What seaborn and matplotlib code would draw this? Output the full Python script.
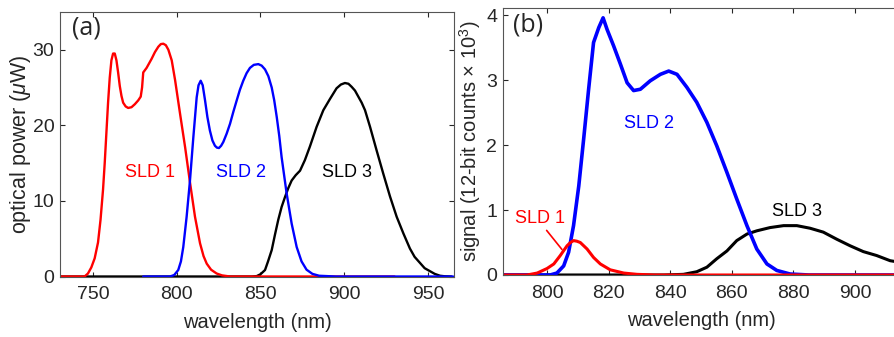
import numpy as np
import pandas as pd
import matplotlib
matplotlib.use("Agg")
import matplotlib.pyplot as plt
import seaborn as sns

# ---------------- Panel (a): optical power (uW) ----------------
a_red_x = [730, 745, 747, 749, 751, 753, 754.5, 756, 757, 758, 759, 760, 761, 762, 763, 764,
           765, 766, 767, 768, 769.5, 771, 773, 775, 777, 778.5, 779.3, 780, 781, 782, 783.5,
           785, 787, 789, 790.5, 792, 793.5, 795, 797, 799, 802, 805, 808, 810.9, 813.9,
           816, 817.9, 820.5, 823.8, 827, 831.8, 840, 930]
a_red_y = [0, 0, 0.4, 1.2, 2.4, 4.5, 7.5, 11.5, 15, 19, 23, 26.3, 28.6, 29.5, 29.5, 28.6,
           27, 25.2, 23.9, 23, 22.5, 22.3, 22.4, 22.8, 23.3, 23.8, 25, 27, 27.3, 27.6, 28.2,
           28.8, 29.7, 30.4, 30.75, 30.8, 30.6, 30.0, 28.6, 26.0, 21.5, 17.1, 12.3, 7.9, 4.4,
           2.7, 1.7, 0.9, 0.4, 0.15, 0, 0, 0]

a_blue_x = [780, 796, 798.5, 800.9, 802.5, 803.9, 805.9, 807.9, 809.9, 811.9, 813, 814.3, 815.5,
            816.9, 818.3, 819.8, 821.3, 822.8, 824, 825.2, 826.5, 827.8, 829.8, 831.8, 833.8,
            835.8, 837.7, 839.7, 841.7, 843.7, 846, 848.7, 850.7, 852.7, 854.7, 856.7, 858.2,
            859.7, 861.2, 862.6, 865.6, 868.6, 871.6, 874.5, 877.5, 881, 885, 895, 965]
a_blue_y = [0, 0, 0.2, 0.86, 2, 3.9, 7.9, 12.7, 18.4, 23.7, 25.3, 25.9, 25.3,
            23.3, 21.1, 19.3, 18.0, 17.3, 17.05, 17.0, 17.3, 17.8, 18.9, 20.2, 21.8,
            23.3, 24.7, 25.9, 26.9, 27.6, 28.0, 28.1, 27.9, 27.4, 26.5, 25.0, 23.3,
            21.1, 18.6, 15.8, 11.0, 7.0, 3.9, 2.0, 0.9, 0.35, 0.1, 0, 0]

a_black_x = [730, 845, 847.7, 850, 852.7, 854.5, 856.7, 858.6, 860.6, 862.6, 864.6, 866.6, 868.6,
             871, 873.6, 876.5, 879.5, 883.5, 887.5, 891.5, 895.4, 898, 900.4, 902.5, 904.4,
             906.4, 908.4, 910.4, 912.4, 915.4, 919.3, 923.3, 927.3, 931.3, 935.3, 939.2, 942,
             945.2, 948, 951.2, 954, 957.2, 960, 964]
a_black_y = [0, 0, 0.05, 0.3, 0.86, 2, 3.5, 5.5, 7.5, 9.2, 10.5, 11.7, 12.7,
             13.4, 14.0, 15.4, 17.2, 19.8, 22.0, 23.5, 24.9, 25.4, 25.6, 25.5, 25.1,
             24.6, 23.8, 23.0, 22.0, 19.8, 16.7, 13.6, 10.6, 7.9, 5.7, 3.7, 2.6,
             1.8, 1.1, 0.7, 0.35, 0.1, 0.03, 0]

# ---------------- Panel (b): signal (12-bit counts x 10^3) ----------------
b_red_x = [786, 793.5, 796.8, 800, 802.2, 804.3, 806.5, 807.6, 808.6, 809.7, 810.8, 813, 815.1,
           817.3, 820.5, 824.9, 829.2, 835, 914]
b_red_y = [0, 0, 0.03, 0.1, 0.17, 0.3, 0.45, 0.5, 0.53, 0.52, 0.5, 0.4, 0.27,
           0.17, 0.08, 0.03, 0.01, 0, 0]

b_blue_x = [786, 801, 803.2, 805.4, 807, 808.6, 810.3, 811.9, 813.5, 815.1, 816.8, 818.2,
            819.5, 821.6, 823.8, 826, 828.1, 830.3, 833.5, 836.8, 839.5, 842.2, 845.4,
            848.6, 851.9, 855.1, 858.4, 861.6, 864.9, 868.1, 871.4, 874.6, 878.9, 885, 914]
b_blue_y = [0, 0, 0.03, 0.14, 0.35, 0.76, 1.37, 2.1, 2.86, 3.58, 3.81, 3.96,
            3.78, 3.53, 3.25, 2.96, 2.84, 2.86, 2.99, 3.09, 3.14, 3.09, 2.89,
            2.66, 2.35, 1.99, 1.58, 1.17, 0.76, 0.4, 0.17, 0.07, 0.015, 0, 0]

b_black_x = [786, 838, 844.3, 848.6, 851.9, 855.1, 858.4, 861.6, 864.9, 868.1, 872.4, 876.8,
             881.1, 885.4, 889.7, 894.1, 898.4, 902.7, 907, 911.4, 914]
b_black_y = [0, 0, 0.01, 0.05, 0.12, 0.25, 0.37, 0.53, 0.63, 0.68, 0.73, 0.76,
             0.76, 0.72, 0.66, 0.55, 0.45, 0.36, 0.30, 0.22, 0.2]

labels = ["SLD 1", "SLD 2", "SLD 3"]
colors = ["#ff0000", "#0000ff", "#000000"]

sns.set_style("ticks")
plt.rcParams["font.family"] = ["Liberation Sans", "DejaVu Sans"]
plt.rcParams["mathtext.fontset"] = "custom"
plt.rcParams["mathtext.it"] = "Liberation Sans:italic"
plt.rcParams["mathtext.rm"] = "Liberation Sans"

axis_col = "#262626"
fig = plt.figure(figsize=(8.94, 3.37), dpi=100)
ax1 = fig.add_axes([0.0671, 0.1795, 0.4407, 0.785])
ax2 = fig.add_axes([0.5623, 0.184, 0.4444, 0.792])

def draw(ax, xs, ys, lw_list, order):
    for i in order:
        df = pd.DataFrame({"x": xs[i], "y": ys[i]})
        sns.lineplot(data=df, x="x", y="y", ax=ax, color=colors[i], lw=lw_list[i],
                     sort=False, estimator=None, legend=False)

draw(ax1, [a_red_x, a_blue_x, a_black_x], [a_red_y, a_blue_y, a_black_y],
     [1.7, 1.7, 1.7], [2, 0, 1])
draw(ax2, [b_red_x, b_blue_x, b_black_x], [b_red_y, b_blue_y, b_black_y],
     [2.2, 2.6, 2.2], [2, 1, 0])

ax1.set_xlim(730.3, 965.5)
ax1.set_ylim(0, 35)
ax1.set_xticks([750, 800, 850, 900, 950])
ax1.set_yticks([0, 10, 20, 30])
ax2.set_xlim(785.6, 914.6)
ax2.set_ylim(0, 4.11)
ax2.set_xticks([800, 820, 840, 860, 880, 900])
ax2.set_yticks([0, 1, 2, 3, 4])

for ax in (ax1, ax2):
    ax.tick_params(direction="in", top=True, right=True, length=3.5, width=0.8,
                   labelsize=14, colors=axis_col)
    ax.tick_params(axis="y", pad=4)
    ax.tick_params(axis="x", pad=7)
    for sp in ax.spines.values():
        sp.set_color("#555555")
        sp.set_linewidth(0.8)
        sp.set_visible(True)
    ax.set_xlabel("wavelength (nm)", fontsize=14.5, color=axis_col, labelpad=7)

ax1.set_ylabel(r"optical power ($\mu$W)", fontsize=15.5, color=axis_col, labelpad=0)
ax2.set_ylabel(r"signal (12-bit counts × 10$^3$)", fontsize=14.5, color=axis_col, labelpad=2)

ax1.text(0.03, 0.985, "(a)", transform=ax1.transAxes, fontsize=18, va="top", ha="left",
         family=["Open Sans", "DejaVu Sans"])
ax2.text(0.025, 0.985, "(b)", transform=ax2.transAxes, fontsize=18, va="top", ha="left",
         family=["Open Sans", "DejaVu Sans"])

ax1.text(784.3, 13.8, labels[0], color=colors[0], fontsize=13, ha="center", va="center")
ax1.text(838.6, 13.8, labels[1], color=colors[1], fontsize=13, ha="center", va="center")
ax1.text(901.4, 13.8, labels[2], color=colors[2], fontsize=13, ha="center", va="center")

ax2.text(797.6, 0.87, labels[0], color=colors[0], fontsize=13, ha="center", va="center")
ax2.text(833.2, 2.34, labels[1], color=colors[1], fontsize=13, ha="center", va="center")
ax2.text(881.1, 0.98, labels[2], color=colors[2], fontsize=13, ha="center", va="center")
ax2.annotate("", xy=(805.4, 0.36), xytext=(799.3, 0.72),
             arrowprops=dict(arrowstyle="-", color=colors[0], lw=1.2))

fig.savefig("out.png", dpi=100)
